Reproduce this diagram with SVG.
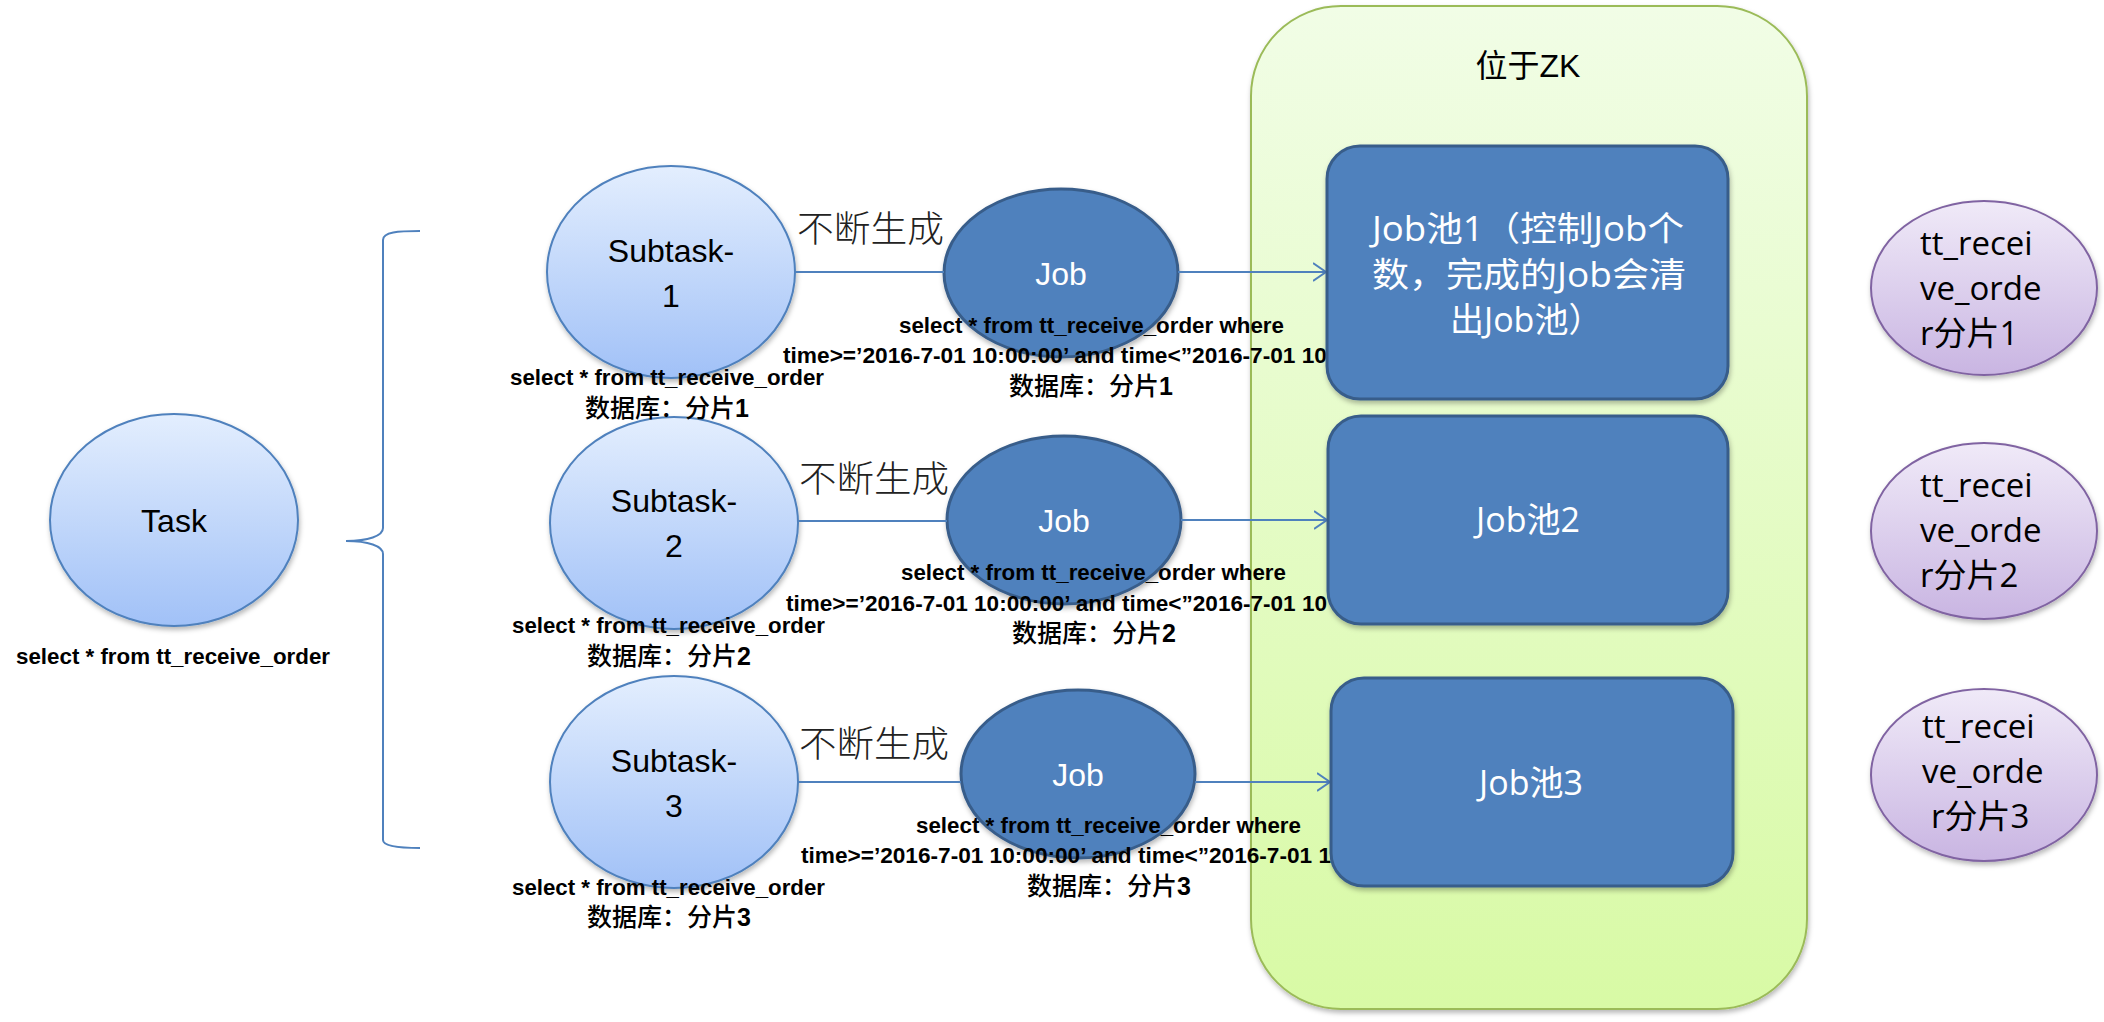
<svg xmlns="http://www.w3.org/2000/svg" width="2104" height="1022" viewBox="0 0 2104 1022">
<defs>
  <linearGradient id="gBlue" x1="0" y1="0" x2="0" y2="1">
    <stop offset="0" stop-color="#E3EEFE"/><stop offset="1" stop-color="#A1C1F7"/>
  </linearGradient>
  <linearGradient id="gPurple" x1="0" y1="0" x2="0" y2="1">
    <stop offset="0" stop-color="#F0EAF8"/><stop offset="1" stop-color="#C9B5E2"/>
  </linearGradient>
  <linearGradient id="gGreen" x1="0" y1="0" x2="0" y2="1">
    <stop offset="0" stop-color="#F1FDE6"/><stop offset="1" stop-color="#D8FAA5"/>
  </linearGradient>
  <filter id="sh" x="-10%" y="-10%" width="125%" height="125%">
    <feDropShadow dx="1" dy="3" stdDeviation="2.5" flood-color="#000" flood-opacity="0.28"/>
  </filter>
  <marker id="arr" viewBox="0 0 14 20" refX="13" refY="10" markerWidth="14" markerHeight="20" markerUnits="userSpaceOnUse" orient="auto">
    <path d="M0,1 L13,10 L0,19" fill="none" stroke="#4F81BD" stroke-width="2"/>
  </marker>
</defs>
<style>
  .light { fill: url(#gBlue); stroke: #4F81BD; stroke-width: 2; filter: url(#sh); }
  .dark { fill: #4F81BD; stroke: #385D8A; stroke-width: 3; filter: url(#sh); }
  .purple { fill: url(#gPurple); stroke: #8064A2; stroke-width: 2; filter: url(#sh); }
  .zk { fill: url(#gGreen); stroke: #9BBB59; stroke-width: 2; filter: url(#sh); }
  .lbl { font-family: "Liberation Sans", "Noto Sans CJK SC", sans-serif; font-size: 32px; fill: #000; text-anchor: middle; }
  .wlbl { font-family: "Liberation Sans", "Noto Sans CJK SC", sans-serif; font-size: 32px; fill: #FFF; text-anchor: middle; }
  .pool { font-family: "Open Sans", "Noto Sans CJK SC", sans-serif; font-size: 34px; fill: #FFF; }
  .shard { font-family: "Open Sans", "Noto Sans CJK SC", sans-serif; font-size: 33px; fill: #000; }
  .cap { font-family: "Liberation Sans", "Noto Sans CJK SC", sans-serif; font-weight: bold; font-size: 22px; fill: #000; }
  .capcn { font-family: "Liberation Sans", "Noto Sans CJK SC", sans-serif; font-weight: 500; font-size: 25px; fill: #000; }
  .capcn tspan { font-weight: bold; }
  .gen { font-family: "Noto Sans CJK SC", sans-serif; font-size: 36px; fill: #222; font-weight: 300; }
  .line { stroke: #4F81BD; stroke-width: 2; fill: none; }
</style>

<g id="zk-container">
  <rect class="zk" x="1251" y="6" width="556" height="1003" rx="90" ry="90"/>
  <text class="lbl" x="1528" y="77" font-size="34">位于ZK</text>
</g>

<g id="brace">
  <path class="line" d="M420,231 C398,231 383,232 383,240 L383,528 C383,536 368,541 346,541 C368,541 383,546 383,554 L383,840 C383,846 398,848 420,848"/>
</g>

<g id="task">
  <ellipse class="light" cx="174" cy="520" rx="124" ry="106"/>
  <text class="lbl" x="174" y="532">Task</text>
  <text class="cap" x="16" y="664" textLength="314" lengthAdjust="spacingAndGlyphs">select * from tt_receive_order</text>
</g>

<g id="subtask-1">
  <ellipse class="light" cx="671" cy="272" rx="124" ry="106"/>
  <text class="lbl" x="671" y="262">Subtask-</text>
  <text class="lbl" x="671" y="307">1</text>
</g>
<g id="subtask-2">
  <ellipse class="light" cx="674" cy="523" rx="124" ry="106"/>
  <text class="lbl" x="674" y="512">Subtask-</text>
  <text class="lbl" x="674" y="557">2</text>
</g>
<g id="subtask-3">
  <ellipse class="light" cx="674" cy="782" rx="124" ry="106"/>
  <text class="lbl" x="674" y="772">Subtask-</text>
  <text class="lbl" x="674" y="817">3</text>
</g>

<g id="job-1">
  <ellipse class="dark" cx="1061" cy="273" rx="117" ry="84"/>
  <text class="wlbl" x="1061" y="285">Job</text>
</g>
<g id="job-2">
  <ellipse class="dark" cx="1064" cy="520" rx="117" ry="84"/>
  <text class="wlbl" x="1064" y="532">Job</text>
</g>
<g id="job-3">
  <ellipse class="dark" cx="1078" cy="774" rx="117" ry="84"/>
  <text class="wlbl" x="1078" y="786">Job</text>
</g>

<g id="connectors">
  <line class="line" x1="795" y1="272" x2="944" y2="272"/>
  <line class="line" x1="1178" y1="272" x2="1326" y2="272" marker-end="url(#arr)"/>
  <line class="line" x1="798" y1="521" x2="947" y2="521"/>
  <line class="line" x1="1181" y1="520" x2="1327" y2="520" marker-end="url(#arr)"/>
  <line class="line" x1="798" y1="782" x2="961" y2="782"/>
  <line class="line" x1="1195" y1="782" x2="1330" y2="782" marker-end="url(#arr)"/>
  <text class="gen" x="797" y="242" textLength="147" lengthAdjust="spacingAndGlyphs">不断生成</text>
  <text class="gen" x="799" y="492" textLength="150" lengthAdjust="spacingAndGlyphs">不断生成</text>
  <text class="gen" x="799" y="757" textLength="150" lengthAdjust="spacingAndGlyphs">不断生成</text>
</g>

<g id="captions">
  <text class="cap" x="510" y="385" textLength="314" lengthAdjust="spacingAndGlyphs">select * from tt_receive_order</text>
  <text class="capcn" x="585" y="417">数据库：分片<tspan>1</tspan></text>
  <text class="cap" x="512" y="633" textLength="313" lengthAdjust="spacingAndGlyphs">select * from tt_receive_order</text>
  <text class="capcn" x="587" y="665">数据库：分片<tspan>2</tspan></text>
  <text class="cap" x="512" y="895" textLength="313" lengthAdjust="spacingAndGlyphs">select * from tt_receive_order</text>
  <text class="capcn" x="587" y="926">数据库：分片<tspan>3</tspan></text>

  <text class="cap" x="899" y="333" textLength="385" lengthAdjust="spacingAndGlyphs">select * from tt_receive_order where</text>
  <text class="cap" x="783" y="363" textLength="544" lengthAdjust="spacingAndGlyphs">time&gt;=’2016-7-01 10:00:00’ and time&lt;”2016-7-01 10</text>
  <text class="capcn" x="1009" y="395">数据库：分片<tspan>1</tspan></text>
  <text class="cap" x="901" y="580" textLength="385" lengthAdjust="spacingAndGlyphs">select * from tt_receive_order where</text>
  <text class="cap" x="786" y="611" textLength="541" lengthAdjust="spacingAndGlyphs">time&gt;=’2016-7-01 10:00:00’ and time&lt;”2016-7-01 10</text>
  <text class="capcn" x="1012" y="642">数据库：分片<tspan>2</tspan></text>
  <text class="cap" x="916" y="833" textLength="385" lengthAdjust="spacingAndGlyphs">select * from tt_receive_order where</text>
  <text class="cap" x="801" y="863" textLength="530" lengthAdjust="spacingAndGlyphs">time&gt;=’2016-7-01 10:00:00’ and time&lt;”2016-7-01 1</text>
  <text class="capcn" x="1027" y="895">数据库：分片<tspan>3</tspan></text>
</g>

<g id="job-pool-1">
  <rect class="dark" x="1327" y="146" width="401" height="253" rx="33" ry="33"/>
  <text class="pool" x="1372" y="241" textLength="312" lengthAdjust="spacingAndGlyphs">Job池1（控制Job个</text>
  <text class="pool" x="1372" y="287" textLength="314" lengthAdjust="spacingAndGlyphs">数，完成的Job会清</text>
  <text class="pool" x="1450" y="332">出Job池）</text>
</g>
<g id="job-pool-2">
  <rect class="dark" x="1328" y="416" width="400" height="208" rx="33" ry="33"/>
  <text class="pool" x="1528" y="532" text-anchor="middle">Job池2</text>
</g>
<g id="job-pool-3">
  <rect class="dark" x="1331" y="678" width="402" height="208" rx="33" ry="33"/>
  <text class="pool" x="1531" y="795" text-anchor="middle">Job池3</text>
</g>

<g id="shard-1">
  <ellipse class="purple" cx="1984" cy="288" rx="113" ry="87"/>
  <text class="shard" x="1920" y="255">tt_recei</text>
  <text class="shard" x="1920" y="300">ve_orde</text>
  <text class="shard" x="1920" y="345">r分片1</text>
</g>
<g id="shard-2">
  <ellipse class="purple" cx="1984" cy="531" rx="113" ry="88"/>
  <text class="shard" x="1920" y="497">tt_recei</text>
  <text class="shard" x="1920" y="542">ve_orde</text>
  <text class="shard" x="1920" y="587">r分片2</text>
</g>
<g id="shard-3">
  <ellipse class="purple" cx="1984" cy="775" rx="113" ry="86"/>
  <text class="shard" x="1922" y="738">tt_recei</text>
  <text class="shard" x="1922" y="783">ve_orde</text>
  <text class="shard" x="1931" y="828">r分片3</text>
</g>
</svg>
